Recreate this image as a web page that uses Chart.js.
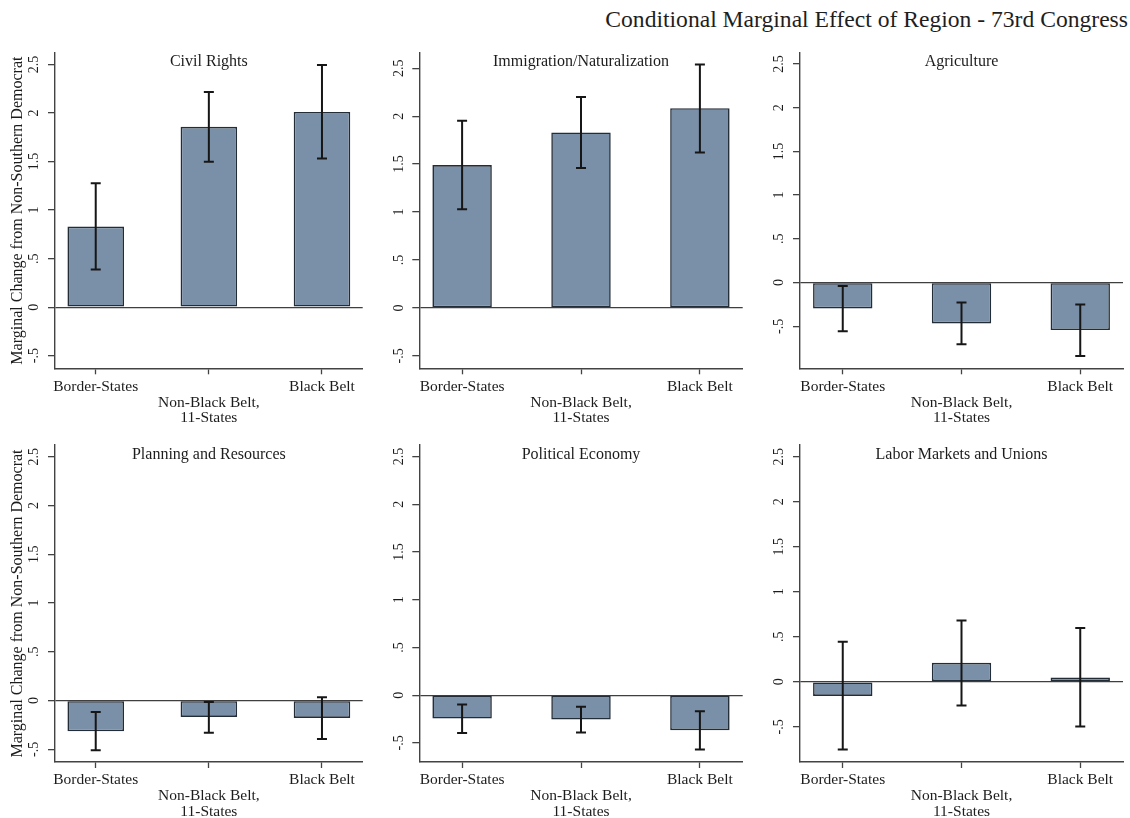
<!DOCTYPE html>
<html>
<head>
<meta charset="utf-8">
<title>Conditional Marginal Effect of Region - 73rd Congress</title>
<script src="https://cdn.jsdelivr.net/npm/chart.js@4.4.1/dist/chart.umd.min.js"></script>
<style>
  html, body { margin: 0; padding: 0; background: #fff; }
  #page { position: relative; width: 1130px; height: 818px; overflow: hidden; background: #fff; }
  #mainTitle {
    position: absolute; right: 2px; top: 7.5px;
    font-family: 'Liberation Serif', 'Times New Roman', serif;
    font-size: 23.6px; line-height: 23.6px; color: #1e1e1e; white-space: nowrap;
  }
  canvas.panel { position: absolute; }
</style>
</head>
<body>
<div id="page">
  <div id="mainTitle">Conditional Marginal Effect of Region - 73rd Congress</div>
</div>
<script>
// Regions compared on every panel (the middle label wraps onto two lines)
const categoryLines = [['Border-States'], ['Non-Black Belt,', '11-States'], ['Black Belt']];

// Policy areas, one panel each
const panelTitles = ['Civil Rights', 'Immigration/Naturalization', 'Agriculture',
                     'Planning and Resources', 'Political Economy', 'Labor Markets and Unions'];

// Point estimates (marginal change from non-southern Democrats)
const civilRights   = [0.83, 1.858, 2.012];
const immigration   = [1.49, 1.83, 2.083];
const agriculture   = [-0.296, -0.467, -0.543];
const planning      = [-0.315, -0.168, -0.178];
const politicalEcon = [-0.245, -0.255, -0.367];
const laborUnions   = [-0.156, 0.211, 0.049];

// Confidence interval bounds
const civilRightsLo   = [0.387, 1.499, 1.533];
const civilRightsHi   = [1.276, 2.218, 2.495];
const immigrationLo   = [1.029, 1.459, 1.622];
const immigrationHi   = [1.951, 2.20, 2.54];
const agricultureLo   = [-0.555, -0.706, -0.839];
const agricultureHi   = [-0.039, -0.228, -0.251];
const planningLo      = [-0.51, -0.329, -0.394];
const planningHi      = [-0.117, -0.014, 0.035];
const politicalEconLo = [-0.395, -0.392, -0.570];
const politicalEconHi = [-0.098, -0.122, -0.168];
const laborUnionsLo   = [-0.751, -0.262, -0.496];
const laborUnionsHi   = [0.444, 0.682, 0.597];

// Vertical axis ticks and their printed labels
const yTickValues = [-0.5, 0, 0.5, 1, 1.5, 2, 2.5];
const yTickLabels = ['-.5', '0', '.5', '1', '1.5', '2', '2.5'];

// Vertical axis range of each panel
const yMins = [-0.63, -0.63, -0.98, -0.63, -0.70, -0.89];
const yMaxs = [2.62, 2.66, 2.626, 2.62, 2.62, 2.63];

const estimates = [civilRights, immigration, agriculture, planning, politicalEcon, laborUnions];
const lowers = [civilRightsLo, immigrationLo, agricultureLo, planningLo, politicalEconLo, laborUnionsLo];
const uppers = [civilRightsHi, immigrationHi, agricultureHi, planningHi, politicalEconHi, laborUnionsHi];

// Grid frame: canvas placement and plot-area margins per column / row
const colFrames = [
  { left: 0,   width: 370, axisW: 55,   padR: 7.3 },
  { left: 370, width: 380, axisW: 49.3, padR: 7.3 },
  { left: 750, width: 380, axisW: 50,   padR: 7 }
];
const rowFrames = [
  { top: 40,  height: 390, padT: 12, axisH: 61.7 },
  { top: 430, height: 388, padT: 15, axisH: 56 }
];

const INK = '#1c1c1c';
const AXIS = '#434343';
const BAR_FILL = '#7a90a8';
const BAR_EDGE = '#232d37';

Chart.defaults.font.family = "'Liberation Serif', 'Times New Roman', serif";
Chart.defaults.color = INK;

const page = document.getElementById('page');

panelTitles.forEach((title, p) => {
  const col = colFrames[p % 3];
  const row = rowFrames[Math.floor(p / 3)];

  const canvas = document.createElement('canvas');
  canvas.className = 'panel';
  canvas.width = col.width;
  canvas.height = row.height;
  canvas.style.left = col.left + 'px';
  canvas.style.top = row.top + 'px';
  canvas.style.width = col.width + 'px';
  canvas.style.height = row.height + 'px';
  page.appendChild(canvas);

  const est = estimates[p], lo = lowers[p], hi = uppers[p];

  // Confidence interval whiskers with caps
  const whiskers = {
    id: 'whiskers' + p,
    afterDatasetsDraw(chart) {
      const { ctx, scales: { x, y } } = chart;
      const cap = 5;
      ctx.save();
      ctx.strokeStyle = '#161616';
      ctx.lineWidth = 2;
      lo.forEach((l, i) => {
        const px = x.getPixelForValue(i);
        const yl = y.getPixelForValue(l);
        const yh = y.getPixelForValue(hi[i]);
        ctx.beginPath();
        ctx.moveTo(px, yl); ctx.lineTo(px, yh);
        ctx.moveTo(px - cap, yl); ctx.lineTo(px + cap, yl);
        ctx.moveTo(px - cap, yh); ctx.lineTo(px + cap, yh);
        ctx.stroke();
      });
      ctx.restore();
    }
  };

  // Panel heading placed inside the top of the plot region
  const heading = {
    id: 'heading' + p,
    afterDraw(chart) {
      const { ctx, chartArea } = chart;
      ctx.save();
      ctx.font = "16px 'Liberation Serif', 'Times New Roman', serif";
      ctx.fillStyle = INK;
      ctx.textAlign = 'center';
      ctx.textBaseline = 'middle';
      ctx.fillText(title, (chartArea.left + chartArea.right) / 2, chartArea.top + 9.3);
      ctx.restore();
    }
  };

  new Chart(canvas, {
    type: 'bar',
    data: {
      datasets: [{
        data: est.map((v, i) => ({ x: i, y: v })),
        backgroundColor: BAR_FILL,
        borderColor: BAR_EDGE,
        borderWidth: 1.6,
        borderSkipped: false,
        categoryPercentage: 1,
        barPercentage: 0.5
      }]
    },
    options: {
      responsive: false,
      animation: false,
      events: [],
      layout: { padding: { top: row.padT, right: col.padR, bottom: 0, left: 0 } },
      plugins: { legend: { display: false }, tooltip: { enabled: false }, title: { display: false } },
      scales: {
        x: {
          type: 'linear',
          offset: false,
          min: -0.36,
          max: 2.36,
          afterBuildTicks: s => { s.ticks = categoryLines.map((_, i) => ({ value: i })); },
          afterFit: s => { s.height = row.axisH; },
          ticks: {
            autoSkip: false,
            minRotation: 0,
            maxRotation: 0,
            padding: 4.2,
            color: INK,
            font: { size: 15.5, lineHeight: 1.03 },
            callback: v => {
              const lines = categoryLines[v];
              return v % 2 === 1 ? [''].concat(lines) : lines;
            }
          },
          grid: {
            display: true,
            offset: false,
            drawOnChartArea: false,
            drawTicks: true,
            tickLength: 6,
            tickColor: AXIS,
            tickWidth: 1.3
          },
          border: { display: true, color: AXIS, width: 1.4 }
        },
        y: {
          min: yMins[p],
          max: yMaxs[p],
          afterBuildTicks: s => { s.ticks = yTickValues.map(v => ({ value: v })); },
          afterFit: s => { s.width = col.axisW; },
          ticks: {
            minRotation: 90,
            maxRotation: 90,
            crossAlign: 'center',
            padding: 4.5,
            color: INK,
            font: { size: 14 },
            callback: v => yTickLabels[yTickValues.indexOf(v)]
          },
          grid: {
            display: true,
            drawOnChartArea: true,
            drawTicks: true,
            tickLength: 7,
            tickColor: AXIS,
            tickWidth: 1.3,
            lineWidth: 1.3,
            color: c => (c.tick && c.tick.value === 0) ? '#3f3f3f' : 'rgba(0,0,0,0)'
          },
          border: { display: true, color: AXIS, width: 1.4 },
          title: {
            display: p % 3 === 0,
            text: 'Marginal Change from Non-Southern Democrat',
            color: INK,
            font: { size: 16, lineHeight: 1.2 },
            padding: { top: 8.4, bottom: 0 }
          }
        }
      }
    },
    plugins: [whiskers, heading]
  });
});
</script>
</body>
</html>
